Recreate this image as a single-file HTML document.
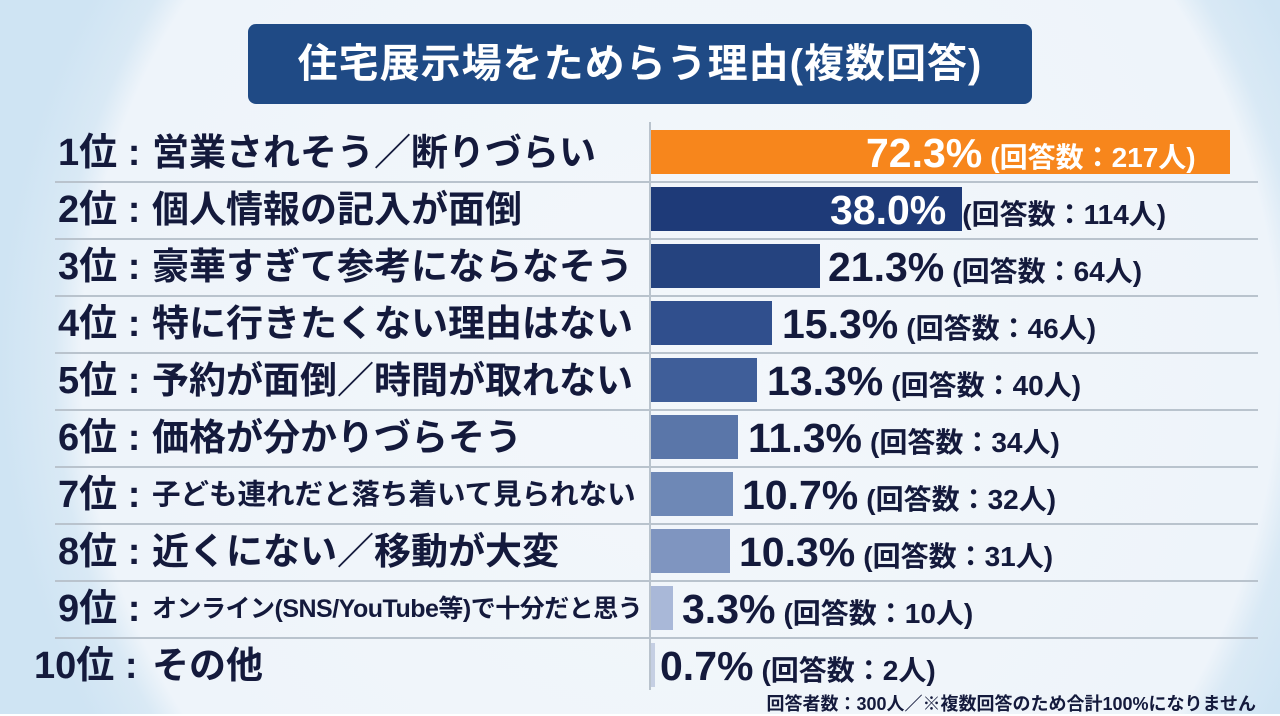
<!DOCTYPE html>
<html><head><meta charset="utf-8"><style>
body{margin:0;width:1280px;height:714px;overflow:hidden;font-family:"Liberation Sans","Noto Sans CJK JP",sans-serif;}
#bg{position:absolute;left:0;top:0;width:1280px;height:714px;background:radial-gradient(ellipse 680px 720px at 680px 360px,#f3f7fb 0%,#eef4fa 88%,#d9e9f5 92%,#cfe4f3 100%);}
.title{position:absolute;left:248px;top:24px;width:784px;height:80px;background:#1f4a85;border-radius:8px;color:#fff;font-weight:bold;font-size:40px;line-height:80px;text-align:center;letter-spacing:1px;}
.line{position:absolute;left:55px;width:1203px;height:2px;background:#b9c3cd;}
.axis{position:absolute;left:649px;top:122px;width:2px;height:568px;background:#b9c3cd;}
.pre{position:absolute;left:58px;font-weight:bold;font-size:38px;color:#141a3c;white-space:nowrap;line-height:44px;}
.lab{position:absolute;left:152px;font-weight:bold;font-size:37px;color:#141a3c;white-space:nowrap;line-height:44px;}
.bar{position:absolute;left:651px;height:44px;}
.val{position:absolute;font-weight:bold;color:#141a3c;white-space:nowrap;line-height:44px;font-size:41px;}
.val span{font-size:28px;margin-left:8px;}
.note{position:absolute;right:24px;top:690px;font-size:18px;color:#141a3c;font-weight:bold;}
</style></head><body>
<div id="bg"></div>
<div class="title">住宅展示場をためらう理由(複数回答)</div>
<div class="axis"></div>
<div class="line" style="top:181px"></div>
<div class="line" style="top:238px"></div>
<div class="line" style="top:295px"></div>
<div class="line" style="top:352px"></div>
<div class="line" style="top:409px"></div>
<div class="line" style="top:466px"></div>
<div class="line" style="top:523px"></div>
<div class="line" style="top:580px"></div>
<div class="line" style="top:637px"></div>

<div class="pre" style="top:131px">1位 :</div>
<div class="pre" style="top:188px">2位 :</div>
<div class="pre" style="top:245px">3位 :</div>
<div class="pre" style="top:302px">4位 :</div>
<div class="pre" style="top:359px">5位 :</div>
<div class="pre" style="top:416px">6位 :</div>
<div class="pre" style="top:473px">7位 :</div>
<div class="pre" style="top:530px">8位 :</div>
<div class="pre" style="top:587px">9位 :</div>
<div class="pre" style="top:644px;left:34px">10位 :</div>

<div class="lab" style="top:131px">営業されそう／断りづらい</div>
<div class="lab" style="top:188px">個人情報の記入が面倒</div>
<div class="lab" style="top:245px">豪華すぎて参考にならなそう</div>
<div class="lab" style="top:302px">特に行きたくない理由はない</div>
<div class="lab" style="top:359px">予約が面倒／時間が取れない</div>
<div class="lab" style="top:416px">価格が分かりづらそう</div>
<div class="lab" style="top:473px;font-size:28.5px">子ども連れだと落ち着いて見られない</div>
<div class="lab" style="top:530px">近くにない／移動が大変</div>
<div class="lab" style="top:587px;font-size:25px;letter-spacing:-0.5px">オンライン(SNS/YouTube等)で十分だと思う</div>
<div class="lab" style="top:644px">その他</div>

<div class="bar" style="top:130px;width:579px;background:#f7861c"></div>
<div class="bar" style="top:187px;width:311px;background:#1e3a78"></div>
<div class="bar" style="top:244px;width:169px;background:#25437f"></div>
<div class="bar" style="top:301px;width:121px;background:#304f8d"></div>
<div class="bar" style="top:358px;width:106px;background:#3f5e99"></div>
<div class="bar" style="top:415px;width:87px;background:#5a76a9"></div>
<div class="bar" style="top:472px;width:82px;background:#6e88b6"></div>
<div class="bar" style="top:529px;width:79px;background:#7f95c0"></div>
<div class="bar" style="top:586px;width:22px;background:#a9b8d8"></div>
<div class="bar" style="top:643px;width:4px;background:#c5cfe3"></div>

<div class="val" style="top:131px;left:866px;color:#fff">72.3%<span>(回答数：217人)</span></div>
<div class="val" style="top:188px;left:830px"><b style="color:#fff">38.0%</b><span style="margin-left:16px">(回答数：114人)</span></div>
<div class="val" style="top:245px;left:828px">21.3%<span>(回答数：64人)</span></div>
<div class="val" style="top:302px;left:782px">15.3%<span>(回答数：46人)</span></div>
<div class="val" style="top:359px;left:767px">13.3%<span>(回答数：40人)</span></div>
<div class="val" style="top:416px;left:748px">11.3%<span>(回答数：34人)</span></div>
<div class="val" style="top:473px;left:742px">10.7%<span>(回答数：32人)</span></div>
<div class="val" style="top:530px;left:739px">10.3%<span>(回答数：31人)</span></div>
<div class="val" style="top:587px;left:682px">3.3%<span>(回答数：10人)</span></div>
<div class="val" style="top:644px;left:660px">0.7%<span>(回答数：2人)</span></div>
<div class="note">回答者数：300人／※複数回答のため合計100%になりません</div>
</body></html>
